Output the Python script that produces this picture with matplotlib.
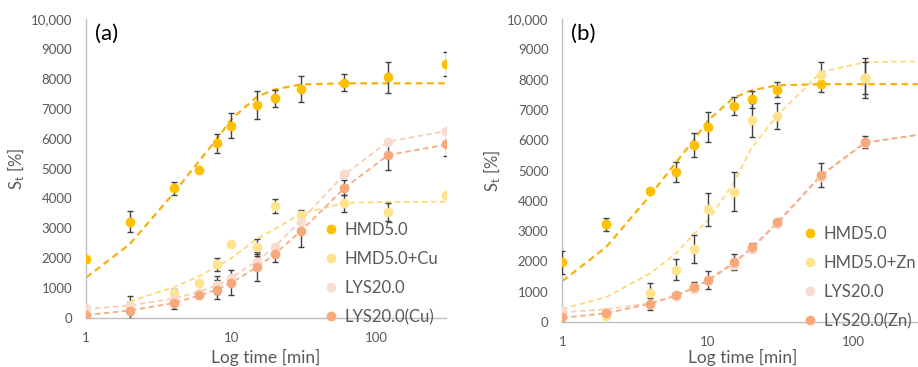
import numpy as np
import matplotlib
matplotlib.use("Agg")
import matplotlib.pyplot as plt
from matplotlib.lines import Line2D

plt.rcParams['font.family'] = ['Lato', 'DejaVu Sans']
plt.rcParams['mathtext.default'] = 'regular'

# sampling times [min]
times = [1, 2, 4, 6, 8, 10, 15, 20, 30, 60, 120, 300]

# HMD5.0 (same sample in both panels)
hmd = [1970, 3220, 4335, 4950, 5850, 6430, 7120, 7350, 7660, 7870, 8050, 8510]
hmd_err_a = [0, 360, 220, 40, 320, 410, 480, 280, 440, 280, 520, 400]
hmd_err_b = [370, 200, 80, 330, 400, 490, 290, 280, 250, 280, 520, 400]
hmd_fit = [1350, 2470, 4170, 5250, 6000, 6650, 7400, 7650, 7810, 7850, 7850, 7850]

# panel (a): Cu
hmd_cu = [np.nan, 450, 825, 1160, 1790, 2470, 2390, 3750, 3450, 3840, 3530, 4115]
hmd_cu_err = [0, 280, 150, 60, 210, 60, 250, 240, 150, 280, 300, 0]
hmd_cu_fit = [np.nan, 550, 1030, 1400, 1730, 2000, 2650, 2980, 3480, 3850, 3880, 3890]

lys = [335, 400, 620, 850, 1100, 1330, 1880, 2390, 3200, 4800, 5900, 6250]
lys_err = [0, 0, 0, 0, 300, 0, 200, 0, 0, 0, 0, 0]
lys_fit = [300, 420, 650, 880, 1100, 1350, 1900, 2400, 3250, 4800, 5900, 6250]

lys_cu = [110, 250, 500, 760, 950, 1180, 1720, 2140, 2910, 4350, 5450, 5810]
lys_cu_err = [0, 280, 200, 80, 330, 420, 480, 260, 530, 250, 500, 390]
lys_cu_fit = [100, 250, 500, 750, 950, 1180, 1700, 2150, 2900, 4350, 5450, 5800]

# panel (b): Zn
hmd_zn = [300, 190, 950, 1720, 2410, 3720, 4300, 6660, 6800, 8160, 8050, 8600]
hmd_zn_err = [0, 60, 350, 350, 470, 550, 640, 560, 420, 420, 650, 0]
hmd_zn_fit = [430, 820, 1600, 2250, 2900, 3350, 4580, 5750, 6820, 8250, 8580, 8600]

lys_b = [370, 330, 580, 850, 1100, 1350, 1880, 2400, 3220, 4800, 5900, 6200]
lys_b_err = [0, 0, 0, 0, 0, 0, 0, 0, 0, 0, 0, 0]
lys_b_fit = [320, 420, 620, 870, 1110, 1360, 1920, 2420, 3250, 4820, 5910, 6200]

lys_zn = [150, 300, 600, 875, 1150, 1390, 1975, 2470, 3310, 4850, 5940, 6200]
lys_zn_err = [0, 60, 200, 60, 160, 290, 260, 150, 60, 410, 200, 0]
lys_zn_fit = [140, 290, 600, 870, 1130, 1380, 1950, 2450, 3280, 4850, 5920, 6200]

yticks = [0, 1000, 2000, 3000, 4000, 5000, 6000, 7000, 8000, 9000, 10000]
ytick_labels = ['0', '1000', '2000', '3000', '4000', '5000', '6000',
                '7000', '8000', '9000', '10,000']

c_hmd = '#FFC000'
c_hmd_line = '#F7B20A'
c_metal = '#FFE38F'
c_metal_line = '#FFD978'
c_lys = '#FADBCF'
c_lys_line = '#F8CDB5'
c_lysm = '#F8A97C'
c_lysm_line = '#F4AC85'
grey = '#595959'

fig = plt.figure(figsize=(9.18, 3.67), dpi=100)
ax_a = fig.add_axes([0.0937, 0.1335, 0.3922, 0.8147])
ax_b = fig.add_axes([0.6125, 0.1226, 0.3929, 0.8256])


def draw(ax, series, tag, leg_xy, xlabelpad):
    for y, err, fit, col, lcol, lw, lab in series:
        ax.plot(times, fit, color=lcol, lw=lw, linestyle=(0, (3, 2)), zorder=2)
    handles = []
    for y, err, fit, col, lcol, lw, lab in series:
        ax.errorbar(times, y, yerr=err, fmt='o', color=col, ms=6,
                    ecolor='#404040', elinewidth=1, capsize=2.5,
                    capthick=1, zorder=3)
        handles.append(Line2D([], [], marker='o', linestyle='none',
                              color=col, ms=6, label=lab))
    ax.set_xscale('log')
    ax.set_xlim(1, 300)
    ax.set_ylim(0, 10000)
    ax.set_xticks([1, 10, 100])
    ax.set_xticklabels(['1', '10', '100'])
    ax.xaxis.set_minor_locator(matplotlib.ticker.NullLocator())
    ax.set_yticks(yticks)
    ax.set_yticklabels(ytick_labels)
    ax.tick_params(length=0, labelsize=9.5, labelcolor=grey, pad=10)
    for s in ['top', 'right']:
        ax.spines[s].set_visible(False)
    for s in ['left', 'bottom']:
        ax.spines[s].set_color('#BFBFBF')
        ax.spines[s].set_linewidth(1)
    ax.set_xlabel('Log time [min]', fontsize=12.5, color=grey,
                  labelpad=xlabelpad)
    ax.set_ylabel('S$_t$ [%]', fontsize=12, color=grey, labelpad=3)
    ax.text(0.025, 0.985, tag, transform=ax.transAxes, fontsize=16,
            va='top', ha='left')
    ax.legend(handles=handles, loc='upper left', bbox_to_anchor=leg_xy,
              frameon=False, fontsize=12, handlelength=0.8,
              handletextpad=0.4, borderpad=0, borderaxespad=0,
              labelspacing=0.78, labelcolor=grey)


draw(ax_a, [
    (hmd, hmd_err_a, hmd_fit, c_hmd, c_hmd_line, 1.6, 'HMD5.0'),
    (hmd_cu, hmd_cu_err, hmd_cu_fit, c_metal, c_metal_line, 1.3, 'HMD5.0+Cu'),
    (lys, lys_err, lys_fit, c_lys, c_lys_line, 1.3, 'LYS20.0'),
    (lys_cu, lys_cu_err, lys_cu_fit, c_lysm, c_lysm_line, 1.3, 'LYS20.0(Cu)'),
], '(a)', (0.662, 0.321), 4)

draw(ax_b, [
    (hmd, hmd_err_b, hmd_fit, c_hmd, c_hmd_line, 1.6, 'HMD5.0'),
    (hmd_zn, hmd_zn_err, hmd_zn_fit, c_metal, c_metal_line, 1.3, 'HMD5.0+Zn'),
    (lys_b, lys_b_err, lys_b_fit, c_lys, c_lys_line, 1.3, 'LYS20.0'),
    (lys_zn, lys_zn_err, lys_zn_fit, c_lysm, c_lysm_line, 1.3, 'LYS20.0(Zn)'),
], '(b)', (0.668, 0.317), 0.5)

fig.savefig('out.png', dpi=100)
